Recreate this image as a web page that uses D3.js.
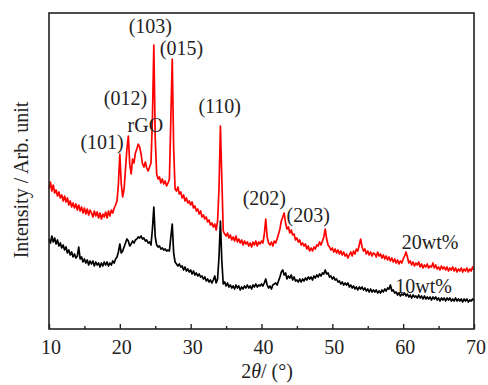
<!DOCTYPE html>
<html>
<head>
<meta charset="utf-8">
<script src="https://cdn.jsdelivr.net/npm/d3@7/dist/d3.min.js"></script>
<style>
  html, body { margin: 0; padding: 0; background: #fff; }
  svg { display: block; }
  text { font-family: "Liberation Serif", "Times New Roman", serif; fill: #222; }
</style>
</head>
<body>
<svg id="chart" width="488" height="385"></svg>
<script>
// 2θ grid of the scans: start angle and step (degrees)
const thetaStart = 10;
const thetaStep = 0.2;

// Intensity (arbitrary units, offset stacked as in figure), 10° → 70° in 0.2° steps
const series20wt = [
  140,147,138,144,136,139,133,137,131,134,
  128,133,127,131,124,128,122,126,121,125,
  119,124,118,122,116,121,115,120,114,119,
  116,112,118,113,117,111,116,110,115,112,
  117,111,118,113,119,116,121,124,128,145,
  175,145,132,140,160,180,193,165,155,170,
  166,176,180,185,182,175,165,162,167,161,
  158,162,166,210,284,190,155,150,152,146,
  150,145,148,143,146,150,210,270,180,140,
  138,142,135,137,131,134,128,131,126,128,
  124,127,121,123,118,120,115,118,112,114,
  110,112,107,109,104,106,102,105,99,108,
  140,203,150,98,95,93,96,91,94,89,
  92,88,93,87,90,86,89,84,88,85,
  87,83,86,82,87,84,88,83,87,85,
  88,86,95,110,92,86,84,87,83,88,
  86,90,95,100,108,112,116,106,100,102,
  96,99,94,95,89,91,87,89,84,86,
  83,85,80,83,78,81,78,82,80,84,
  83,87,84,88,92,100,90,84,82,79,
  81,77,80,76,79,75,78,74,77,73,
  75,71,74,77,73,78,75,80,78,84,
  90,82,78,80,75,78,74,77,73,76,
  75,72,77,73,75,71,74,70,73,69,
  72,68,71,67,70,66,69,65,68,66,
  70,73,77,72,66,68,64,67,63,66,
  64,67,62,65,61,64,62,65,61,63,
  62,66,61,64,60,62,59,63,60,62,
  59,62,58,61,59,62,58,61,57,60,
  58,61,57,60,58,61,57,60,58,62,
  59
];

const series10wt = [
  90,86,93,87,91,85,89,83,86,81,
  84,79,82,76,79,74,77,72,75,71,
  73,82,70,72,67,70,66,69,64,68,
  65,68,63,67,64,66,62,66,63,67,
  64,67,63,66,64,68,66,70,72,77,
  85,76,78,82,86,90,88,83,85,88,
  86,89,90,92,91,93,90,91,88,89,
  86,87,84,100,122,92,84,82,83,80,
  81,79,80,78,79,78,92,105,76,67,
  65,63,65,62,63,59,62,58,60,57,
  59,55,58,54,56,53,55,52,53,50,
  52,48,50,47,49,46,49,53,46,50,
  72,108,68,45,47,43,46,42,44,41,
  43,40,44,41,43,39,42,40,43,41,
  44,41,43,40,44,42,45,42,44,43,
  45,43,46,50,44,41,43,40,44,45,
  46,44,48,52,57,59,54,56,50,53,
  51,54,49,52,48,49,47,50,47,50,
  48,51,49,52,50,52,49,53,51,54,
  52,55,53,56,55,59,55,56,52,53,
  50,52,49,50,47,48,45,47,44,46,
  44,46,42,44,41,43,40,42,39,42,
  40,42,39,41,38,40,37,40,37,39,
  37,39,36,38,36,39,37,40,38,41,
  40,44,38,39,36,37,34,36,33,35,
  34,36,33,35,32,34,31,34,32,33,
  31,34,31,33,30,33,30,32,30,32,
  29,32,30,32,29,31,28,31,29,31,
  28,31,29,31,28,30,28,31,28,30,
  28,30,27,30,28,30,27,29,28,30,
  28
];

const seriesNames = ["20wt%", "10wt%"];
const seriesColors = ["#ff0000", "#000000"];

const xMajorTicks = [10, 20, 30, 40, 50, 60, 70];
const xMinorTicks = [15, 25, 35, 45, 55, 65];

// Peak annotations: label, 2θ position of label centre, intensity at label baseline
const peakLabels = ["(101)", "(012)", "rGO", "(103)", "(015)", "(110)", "(202)", "(203)"];
const peakTheta  = [17.5, 20.8, 23.6, 24.3, 28.7, 34.1, 40.4, 46.6];
const peakLabelI = [180, 224, 197, 296, 274, 216, 124, 107];

const curveLabelTheta = [63.8, 62.9];
const curveLabelI = [80, 36];

const margin = { left: 49, right: 474, top: 13, bottom: 329 };

const svg = d3.select("#chart");

const x = d3.scaleLinear().domain([10, 70]).range([margin.left, margin.right]);
const y = d3.scaleLinear().domain([0, 316]).range([margin.bottom, margin.top]);

function toPoints(arr) {
  return arr.map((v, i) => [thetaStart + i * thetaStep, v]);
}

const line = d3.line().x(d => x(d[0])).y(d => y(d[1]));

// curves
[series20wt, series10wt].forEach((s, k) => {
  svg.append("path")
    .datum(toPoints(s))
    .attr("d", line)
    .attr("fill", "none")
    .attr("stroke", seriesColors[k])
    .attr("stroke-width", 1.7)
    .attr("stroke-linejoin", "round");
});

// frame
svg.append("rect")
  .attr("x", margin.left).attr("y", margin.top)
  .attr("width", margin.right - margin.left)
  .attr("height", margin.bottom - margin.top)
  .attr("fill", "none").attr("stroke", "#222").attr("stroke-width", 1.6);

// bottom axis ticks (inward)
const xAxis = d3.axisBottom(x)
  .tickValues(xMajorTicks)
  .tickSize(-5)
  .tickPadding(10)
  .tickFormat(d3.format("d"));
const gx = svg.append("g").attr("transform", `translate(0,${margin.bottom})`).call(xAxis);
gx.select(".domain").remove();
gx.selectAll(".tick line").attr("stroke", "#222").attr("stroke-width", 1.4);
gx.selectAll(".tick text")
  .attr("font-size", 20)
  .attr("dx", 1.5)
  .attr("y", 11)
  .style("font-family", "'Liberation Serif', serif")
  .attr("fill", "#222");

const minor = d3.axisBottom(x).tickValues(xMinorTicks).tickSize(-3).tickFormat("");
const gm = svg.append("g").attr("transform", `translate(0,${margin.bottom})`).call(minor);
gm.select(".domain").remove();
gm.selectAll(".tick line").attr("stroke", "#222").attr("stroke-width", 1.4);

// x axis title
const xt = svg.append("text")
  .attr("x", 267).attr("y", 378)
  .attr("text-anchor", "middle")
  .attr("font-size", 20);
xt.append("tspan").text("2");
xt.append("tspan").attr("font-style", "italic").text("θ");
xt.append("tspan").text("/ (°)");

// y axis title
svg.append("text")
  .attr("transform", "translate(28,180) rotate(-90)")
  .attr("text-anchor", "middle")
  .attr("font-size", 20)
  .text("Intensity / Arb. unit");

// peak labels
peakLabels.forEach((t, i) => {
  svg.append("text")
    .attr("x", x(peakTheta[i]))
    .attr("y", y(peakLabelI[i]))
    .attr("text-anchor", "middle")
    .attr("font-size", 20)
    .text(t);
});

// series labels
seriesNames.forEach((t, i) => {
  svg.append("text")
    .attr("x", x(curveLabelTheta[i]))
    .attr("y", y(curveLabelI[i]))
    .attr("text-anchor", "middle")
    .attr("font-size", 20)
    .text(t);
});
</script>
</body>
</html>
